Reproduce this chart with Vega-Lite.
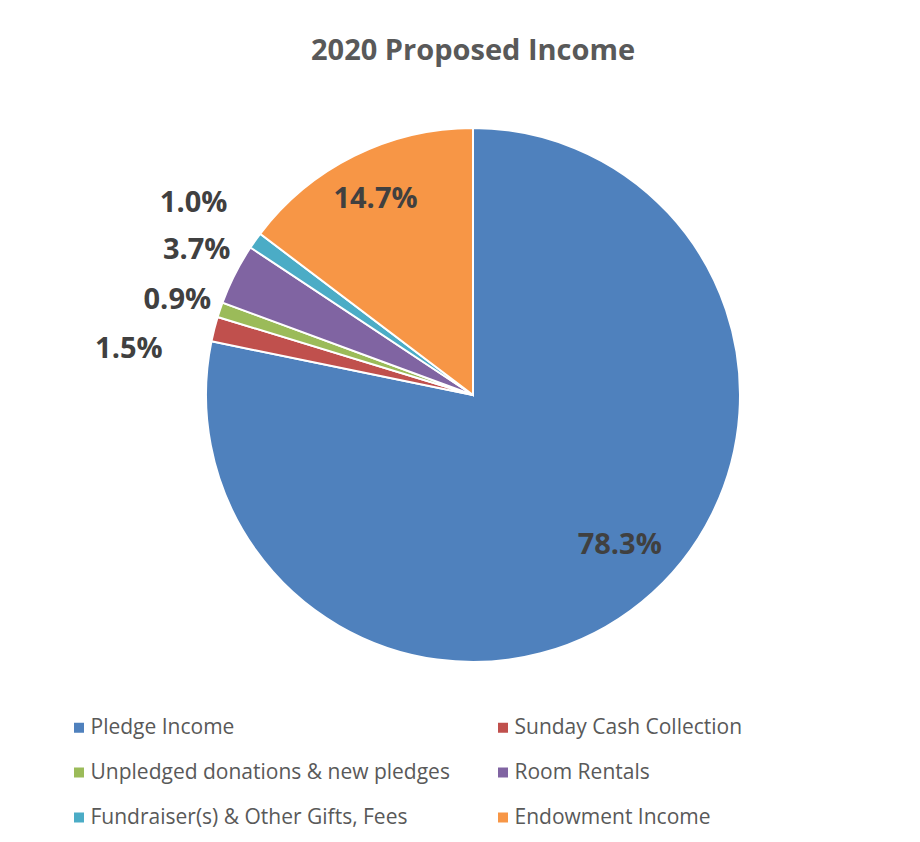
{
  "$schema": "https://vega.github.io/schema/vega-lite/v6.json",
  "width": 894,
  "height": 630,
  "autosize": {"type": "none"},
  "padding": {"left": 26, "top": 80, "right": 0, "bottom": 132},
  "background": "white",
  "config": {"view": {"stroke": null}},
  "title": {
    "text": "2020 Proposed Income",
    "font": "Open Sans",
    "fontSize": 29,
    "fontWeight": "bold",
    "color": "#595959",
    "anchor": "middle",
    "frame": "group",
    "baseline": "alphabetic",
    "offset": -9
  },
  "data": {
    "values": [
      {"idx": 1, "category": "Pledge Income", "value": 0.783},
      {"idx": 2, "category": "Sunday Cash Collection", "value": 0.015},
      {"idx": 3, "category": "Unpledged donations & new pledges", "value": 0.009},
      {"idx": 4, "category": "Room Rentals", "value": 0.037},
      {"idx": 5, "category": "Fundraiser(s) & Other Gifts, Fees", "value": 0.010},
      {"idx": 6, "category": "Endowment Income", "value": 0.147}
    ]
  },
  "encoding": {
    "theta": {"field": "value", "type": "quantitative", "stack": true},
    "order": {"field": "idx", "type": "quantitative"}
  },
  "layer": [
    {
      "mark": {"type": "arc", "outerRadius": 267, "stroke": "white", "strokeWidth": 2},
      "encoding": {
        "color": {
          "field": "category",
          "type": "nominal",
          "scale": {
            "domain": ["Pledge Income", "Unpledged donations & new pledges", "Fundraiser(s) & Other Gifts, Fees", "Sunday Cash Collection", "Room Rentals", "Endowment Income"],
            "range": ["#4F81BD", "#9BBB59", "#4BACC6", "#C0504D", "#8064A2", "#F79646"]
          },
          "legend": {
            "orient": "none",
            "legendX": 42.5,
            "legendY": 637,
            "columns": 2,
            "title": null,
            "padding": 0,
            "symbolType": "square",
            "symbolSize": 100,
            "symbolStrokeWidth": 0,
            "labelFont": "Open Sans",
            "labelFontSize": 21,
            "labelColor": "#595959",
            "labelOffset": 1,
            "labelLimit": 500,
            "rowPadding": 23,
            "columnPadding": 42
          }
        }
      }
    },
    {
      "mark": {"type": "text", "radius": 219, "font": "Open Sans", "fontSize": 29, "fontWeight": "bold", "color": "#404040", "align": "center", "baseline": "middle"},
      "encoding": {"text": {"condition": {"test": "datum.category === 'Endowment Income'", "field": "value", "format": ".1%"}, "value": ""}}
    },
    {
      "mark": {"type": "text", "radius": 210, "dx": 14, "dy": -13, "font": "Open Sans", "fontSize": 29, "fontWeight": "bold", "color": "#404040", "align": "center", "baseline": "middle"},
      "encoding": {"text": {"condition": {"test": "datum.category === 'Pledge Income'", "field": "value", "format": ".1%"}, "value": ""}}
    },
    {
      "mark": {"type": "text", "radius": 340, "dx": -2, "dy": 5, "font": "Open Sans", "fontSize": 29, "fontWeight": "bold", "color": "#404040", "align": "center", "baseline": "middle"},
      "encoding": {"text": {"condition": {"test": "datum.category === 'Fundraiser(s) & Other Gifts, Fees'", "field": "value", "format": ".1%"}, "value": ""}}
    },
    {
      "mark": {"type": "text", "radius": 312, "dx": 2, "dy": -4, "font": "Open Sans", "fontSize": 29, "fontWeight": "bold", "color": "#404040", "align": "center", "baseline": "middle"},
      "encoding": {"text": {"condition": {"test": "datum.category === 'Room Rentals'", "field": "value", "format": ".1%"}, "value": ""}}
    },
    {
      "mark": {"type": "text", "radius": 312, "dy": 5, "font": "Open Sans", "fontSize": 29, "fontWeight": "bold", "color": "#404040", "align": "center", "baseline": "middle"},
      "encoding": {"text": {"condition": {"test": "datum.category === 'Unpledged donations & new pledges'", "field": "value", "format": ".1%"}, "value": ""}}
    },
    {
      "mark": {"type": "text", "radius": 318, "dx": -36, "dy": 33, "font": "Open Sans", "fontSize": 29, "fontWeight": "bold", "color": "#404040", "align": "center", "baseline": "middle"},
      "encoding": {"text": {"condition": {"test": "datum.category === 'Sunday Cash Collection'", "field": "value", "format": ".1%"}, "value": ""}}
    }
  ]
}
